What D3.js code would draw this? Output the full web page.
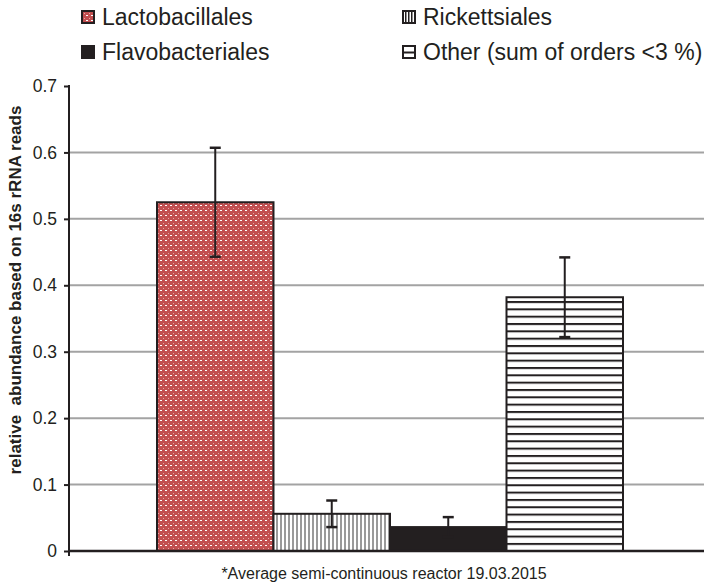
<!DOCTYPE html>
<html>
<head>
<meta charset="utf-8">
<script src="https://cdn.jsdelivr.net/npm/d3@7/dist/d3.min.js"></script>
<style>
  html, body { margin: 0; padding: 0; background: #fff; }
  svg { display: block; }
  text { font-family: "Liberation Sans", Arial, sans-serif; fill: #231f20; }
</style>
</head>
<body>
<svg id="chart" width="704" height="586"></svg>
<script>
// Relative abundance of bacterial orders (16S rRNA reads), mean ± error
const series = ["Lactobacillales", "Rickettsiales", "Flavobacteriales", "Other (sum of orders <3 %)"];
const values = [0.525, 0.056, 0.036, 0.382];
const errors = [0.082, 0.020, 0.015, 0.060];
const yTicks = [0, 0.1, 0.2, 0.3, 0.4, 0.5, 0.6, 0.7];
const gridTicks = [0.1, 0.2, 0.3, 0.4, 0.5, 0.6];
const legendOrder = [
  { name: "Lactobacillales", col: 0, row: 0 },
  { name: "Rickettsiales", col: 1, row: 0 },
  { name: "Flavobacteriales", col: 0, row: 1 },
  { name: "Other (sum of orders <3 %)", col: 1, row: 1 }
];
const yTitle = "relative  abundance based on 16s rRNA reads";
const caption = "*Average semi-continuous reactor 19.03.2015";

const ink = "#231f20";
const svg = d3.select("#chart");
const defs = svg.append("defs");

// Fill patterns for each order
const pLacto = defs.append("pattern").attr("id", "p-lacto")
  .attr("patternUnits", "userSpaceOnUse").attr("width", 5).attr("height", 5);
pLacto.append("rect").attr("width", 5).attr("height", 5).attr("fill", "#c24f50");
pLacto.append("rect").attr("x", 0).attr("y", 0).attr("width", 2).attr("height", 1).attr("fill", "#ffffff");
pLacto.append("rect").attr("x", 3).attr("y", 3).attr("width", 1).attr("height", 1).attr("fill", "#e7a7a7");

const pRick = defs.append("pattern").attr("id", "p-rick")
  .attr("patternUnits", "userSpaceOnUse").attr("width", 4).attr("height", 4);
pRick.append("rect").attr("width", 4).attr("height", 4).attr("fill", "#ffffff");
pRick.append("rect").attr("x", 0).attr("width", 2).attr("height", 4).attr("fill", "#9a9a9a");

const pRickLegend = defs.append("pattern").attr("id", "p-rick-legend")
  .attr("patternUnits", "userSpaceOnUse").attr("width", 3).attr("height", 3);
pRickLegend.append("rect").attr("width", 3).attr("height", 3).attr("fill", "#ffffff");
pRickLegend.append("rect").attr("x", 0).attr("width", 1.5).attr("height", 3).attr("fill", ink);

const pOther = defs.append("pattern").attr("id", "p-other")
  .attr("patternUnits", "userSpaceOnUse").attr("width", 8).attr("height", 7.33)
  .attr("y", 0.5);
pOther.append("rect").attr("width", 8).attr("height", 7.33).attr("fill", "#ffffff");
pOther.append("rect").attr("y", 0).attr("width", 8).attr("height", 2).attr("fill", ink);

const pOtherLegend = defs.append("pattern").attr("id", "p-other-legend")
  .attr("patternUnits", "objectBoundingBox").attr("width", 1).attr("height", 1);
pOtherLegend.append("rect").attr("width", 14).attr("height", 14).attr("fill", "#ffffff");
pOtherLegend.append("rect").attr("y", 5.5).attr("width", 14).attr("height", 2).attr("fill", ink);

const fills = {
  "Lactobacillales": "url(#p-lacto)",
  "Rickettsiales": "url(#p-rick)",
  "Flavobacteriales": ink,
  "Other (sum of orders <3 %)": "url(#p-other)"
};
const legendFills = {
  "Lactobacillales": "url(#p-lacto)",
  "Rickettsiales": "url(#p-rick-legend)",
  "Flavobacteriales": ink,
  "Other (sum of orders <3 %)": "url(#p-other-legend)"
};

// Scales
const plotLeft = 69, plotRight = 711, plotBottom = 551, plotTop = 86;
const y = d3.scaleLinear().domain([0, 0.7]).range([plotBottom, plotTop]);
const x = d3.scaleBand().domain(series).range([157, 623]).padding(0);

// Gridlines
svg.append("g").selectAll("line").data(gridTicks).join("line")
  .attr("x1", plotLeft).attr("x2", plotRight)
  .attr("y1", d => y(d)).attr("y2", d => y(d))
  .attr("stroke", "#a3a3a3").attr("stroke-width", 2);

// Bars
const rows = series.map((s, i) => ({ name: s, value: values[i], err: errors[i] }));
svg.append("g").selectAll("rect").data(rows).join("rect")
  .attr("x", d => x(d.name))
  .attr("y", d => y(d.value))
  .attr("width", x.bandwidth())
  .attr("height", d => y(0) - y(d.value))
  .attr("fill", d => fills[d.name])
  .attr("stroke", ink).attr("stroke-width", 2);

// Error bars
const eb = svg.append("g").attr("stroke", ink).attr("stroke-width", 2);
rows.forEach(d => {
  const cx = x(d.name) + x.bandwidth() / 2;
  eb.append("line").attr("x1", cx).attr("x2", cx)
    .attr("y1", y(d.value + d.err)).attr("y2", y(d.value - d.err));
  [d.value + d.err, d.value - d.err].forEach(v => {
    eb.append("line").attr("x1", cx - 5.5).attr("x2", cx + 5.5)
      .attr("y1", y(v)).attr("y2", y(v)).attr("stroke-width", 2.5);
  });
});

// Y axis
const yAxis = d3.axisLeft(y).tickValues(yTicks).tickSize(5).tickPadding(7)
  .tickFormat(d => d === 0 ? "0" : d3.format(".1f")(d));
const gy = svg.append("g").attr("transform", `translate(${plotLeft},0)`).call(yAxis);
gy.select(".domain").remove();
gy.selectAll(".tick line").attr("stroke", ink).attr("stroke-width", 2);
gy.selectAll(".tick text").attr("font-size", 17.5).attr("fill", ink)
  .style("font-family", "'Liberation Sans', Arial, sans-serif");
svg.append("line").attr("x1", plotLeft).attr("x2", plotLeft)
  .attr("y1", plotTop - 1).attr("y2", plotBottom + 5)
  .attr("stroke", ink).attr("stroke-width", 2);

// X axis baseline
svg.append("line").attr("x1", plotLeft).attr("x2", plotRight)
  .attr("y1", y(0)).attr("y2", y(0))
  .attr("stroke", ink).attr("stroke-width", 2.5);

// Y axis title
svg.append("text")
  .attr("transform", `translate(21,290) rotate(-90)`)
  .attr("text-anchor", "middle")
  .attr("font-size", 17).attr("font-weight", "bold")
  .attr("xml:space", "preserve")
  .style("white-space", "pre")
  .text(yTitle);

// Caption
svg.append("text").attr("x", 384).attr("y", 579)
  .attr("text-anchor", "middle").attr("font-size", 16)
  .text(caption);

// Legend
const colX = [81, 402], rowY = [10, 45];
const lg = svg.append("g").selectAll("g").data(legendOrder).join("g")
  .attr("transform", d => `translate(${colX[d.col]},${rowY[d.row]})`);
lg.append("rect").attr("x", 1).attr("y", 1).attr("width", 12).attr("height", 12)
  .attr("fill", d => legendFills[d.name])
  .attr("stroke", ink).attr("stroke-width", 2);
lg.append("text").attr("x", 21).attr("y", 15)
  .attr("font-size", 23)
  .text(d => d.name);
</script>
</body>
</html>
